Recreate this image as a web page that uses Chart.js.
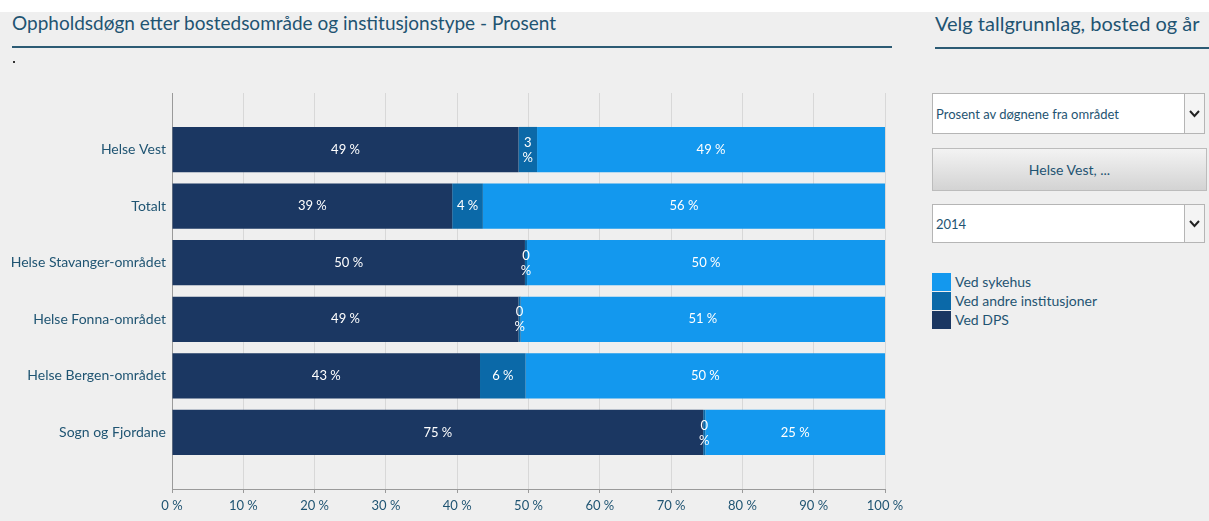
<!DOCTYPE html>
<html>
<head>
<meta charset="utf-8">
<script src="https://cdn.jsdelivr.net/npm/chart.js@4/dist/chart.umd.min.js"></script>
<style>
  body { margin: 0; width: 1209px; height: 521px; background: #efefef; font-family: Lato, sans-serif; color: #1f5472; position: relative; overflow: hidden; }
  .topstrip { position: absolute; left: 0; top: 0; width: 1209px; height: 12px; background: #fff; }
  .title { position: absolute; left: 12px; top: 11px; font-size: 19px; }
  .title2 { position: absolute; left: 935px; top: 11px; font-size: 20px; }
  .rule { position: absolute; height: 2px; background: #2c5b74; }
  .dot { position: absolute; left: 13px; top: 61px; width: 2px; height: 2px; background: #333; }
  .select { position: absolute; left: 932px; width: 273px; background: #fff; border: 1px solid #b5b5b5; font-size: 13px; box-sizing: border-box; }
  .select span { position: absolute; left: 3px; top: 50%; transform: translateY(-50%); }
  .arrow { position: absolute; right: 0; top: 0; bottom: 0; width: 19px; border-left: 1px solid #b5b5b5; background: #f4f4f4; }
  .arrow svg { position: absolute; left: 4px; top: 50%; margin-top: -4px; }
  .button { position: absolute; left: 932px; top: 148px; width: 275px; height: 43px; box-sizing: border-box; border: 1px solid #bcbcbc; background: linear-gradient(#f3f3f3, #d3d3d3); font-size: 14px; text-align: center; line-height: 41px; }
  .legend { position: absolute; left: 932px; top: 273px; font-size: 14px; }
  .legend div { height: 19px; line-height: 18px; position: relative; padding-left: 23px; }
  .legend i { position: absolute; left: 0; top: 0; width: 19px; height: 18px; }
  #wrap { position: absolute; left: 0; top: 0; width: 912px; height: 521px; }
</style>
</head>
<body>
<div class="topstrip"></div>
<div class="title">Oppholdsdøgn etter bostedsområde og institusjonstype - Prosent</div>
<div class="rule" style="left:12px; top:46px; width:880px;"></div>
<div class="dot"></div>
<div class="title2">Velg tallgrunnlag, bosted og år</div>
<div class="rule" style="left:935px; top:47px; width:274px;"></div>

<div class="select" style="top:93px; height:41px;"><span>Prosent av døgnene fra området</span>
  <div class="arrow"><svg width="11" height="8" viewBox="0 0 11 8"><path d="M1 1 L5.5 6 L10 1" fill="none" stroke="#222" stroke-width="2"/></svg></div></div>
<div class="button">Helse Vest, ...</div>
<div class="select" style="top:204px; height:39px;"><span>2014</span>
  <div class="arrow"><svg width="11" height="8" viewBox="0 0 11 8"><path d="M1 1 L5.5 6 L10 1" fill="none" stroke="#222" stroke-width="2"/></svg></div></div>

<div class="legend" id="legend"></div>

<div id="wrap"><canvas id="chart"></canvas></div>

<script>
const categories = ['Helse Vest', 'Totalt', 'Helse Stavanger-området', 'Helse Fonna-området', 'Helse Bergen-området', 'Sogn og Fjordane'];
const dps = [48.6, 39.3, 49.5, 48.6, 43.2, 74.5];
const andre = [2.6, 4.3, 0.3, 0.3, 6.4, 0.3];
const sykehus = [48.8, 56.4, 50.2, 51.1, 50.4, 25.2];
const xTicks = [0, 10, 20, 30, 40, 50, 60, 70, 80, 90, 100];

const series = [
  { label: 'Ved DPS', data: dps, color: '#1b3762' },
  { label: 'Ved andre institusjoner', data: andre, color: '#0b69a8' },
  { label: 'Ved sykehus', data: sykehus, color: '#1398ee' },
];

// legend on the right panel, top-down is reverse of the stack
document.getElementById('legend').innerHTML = series.slice().reverse()
  .map(s => `<div><i style="background:${s.color}"></i>${s.label}</div>`).join('');

const FONT = 'Lato';
const TEXT = '#1f5472';

const barLabels = {
  id: 'barLabels',
  afterDatasetsDraw(chart) {
    const ctx = chart.ctx;
    ctx.save();
    ctx.fillStyle = '#fff';
    ctx.font = '13px ' + FONT;
    ctx.textAlign = 'center';
    ctx.textBaseline = 'middle';
    chart.data.datasets.forEach((ds, i) => {
      chart.getDatasetMeta(i).data.forEach((bar, j) => {
        const v = Math.round(ds.data[j].x);
        const txt = v + ' %';
        const w = Math.abs(bar.x - bar.base);
        const cx = (bar.x + bar.base) / 2;
        if (ctx.measureText(txt).width + 4 > w) {
          ctx.fillText(String(v), cx, bar.y - 7);
          ctx.fillText('%', cx, bar.y + 8);
        } else {
          ctx.fillText(txt, cx, bar.y);
        }
      });
    });
    ctx.restore();
  }
};

new Chart(document.getElementById('chart'), {
  type: 'bar',
  data: {
    datasets: series.map(s => ({
      label: s.label,
      data: s.data.map((v, i) => ({ x: v, y: i })),
      backgroundColor: s.color,
      borderWidth: 0,
      barPercentage: 0.8,
      categoryPercentage: 1,
    })),
  },
  options: {
    indexAxis: 'y',
    responsive: true,
    maintainAspectRatio: false,
    animation: false,
    layout: { padding: { top: 93, right: 27, left: 0, bottom: 0 } },
    plugins: { legend: { display: false }, tooltip: { enabled: false } },
    scales: {
      x: {
        type: 'linear',
        stacked: true,
        min: 0,
        max: 100,
        afterBuildTicks: (scale) => { scale.ticks = xTicks.map(v => ({ value: v })); },
        afterFit: (scale) => { scale.height = 32; },
        ticks: { callback: v => v + ' %', color: TEXT, font: { family: FONT, size: 13 }, padding: 5, maxRotation: 0 },
        grid: { color: '#d8d8d8', tickColor: '#9a9a9a', tickLength: 4 },
        border: { color: '#9a9a9a' },
      },
      y: {
        type: 'linear',
        stacked: true,
        reverse: true,
        offset: false,
        min: -1,
        max: categories.length,
        afterBuildTicks: (scale) => { scale.ticks = categories.map((c, i) => ({ value: i })); },
        afterFit: (scale) => { scale.width = 172; },
        ticks: { callback: v => categories[v] || '', color: TEXT, font: { family: FONT, size: 14 }, padding: 6 },
        grid: { display: false, drawTicks: false },
        border: { color: '#9a9a9a' },
      },
    },
  },
  plugins: [barLabels],
});
</script>
</body>
</html>
